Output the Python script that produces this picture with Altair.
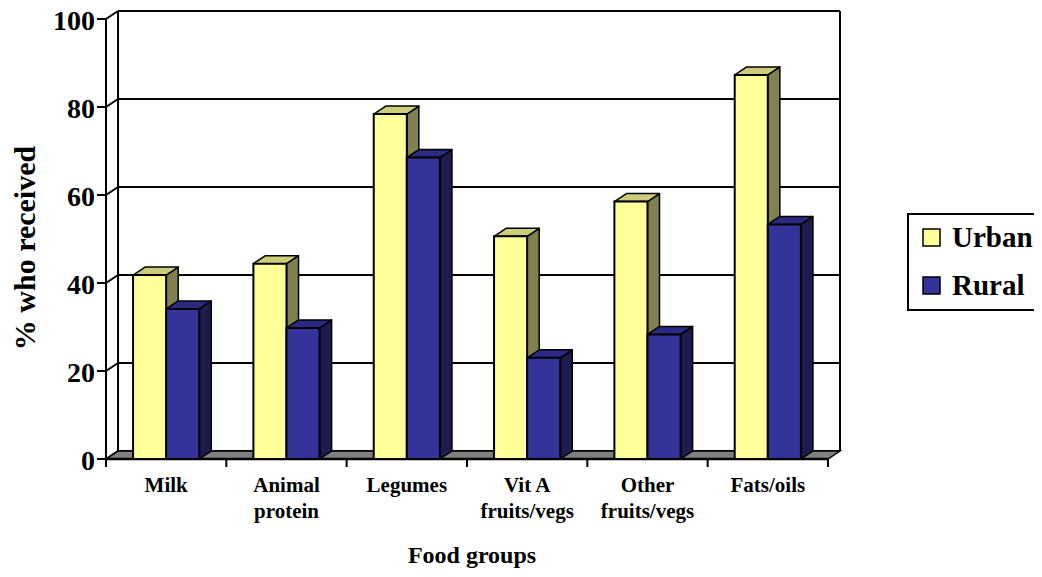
import altair as alt
import pandas as pd

categories = ["Milk", "Animal\nprotein", "Legumes", "Vit A\nfruits/vegs", "Other\nfruits/vegs", "Fats/oils"]
series_names = ["Urban", "Rural"]
urban = [41.8, 44.4, 78.4, 50.6, 58.5, 87.3]
rural = [34.1, 29.8, 68.5, 23.0, 28.3, 53.3]
y_ticks = [0, 20, 40, 60, 80, 100]
x_title = "Food groups"
y_title = "% who received"

# style / geometry
FONT = "Liberation Serif"
DEPTH_X = 0.1      # depth offset in category units
DEPTH_Y = 1.818    # depth offset in value units
Y_MAX = 100
N = len(categories)
BAR_W = 0.275
GAP = 0.225
TICK_X = 0.075     # y-axis tick length, category units
TICK_Y = 1.818     # x-axis tick length, value units
front_cols = {"Urban": "#FFFF99", "Rural": "#333399"}
top_cols = {"Urban": "#CCCC7A", "Rural": "#2A2A80"}
side_cols = {"Urban": "#808050", "Rural": "#1C1C4E"}

xs = alt.Scale(domain=[0, N + DEPTH_X], nice=False, zero=False)
ys = alt.Scale(domain=[0, Y_MAX + DEPTH_Y], nice=False, zero=False)


def X(f="x"):
    return alt.X(f"{f}:Q", scale=xs, axis=None)


def Y(f="y"):
    return alt.Y(f"{f}:Q", scale=ys, axis=None)


# ---------- walls, floor, axes ----------
grid_rows = []
for v in y_ticks:
    grid_rows.append({"x": DEPTH_X, "x2": N + DEPTH_X, "y": v + DEPTH_Y, "y2": v + DEPTH_Y})  # back wall
    grid_rows.append({"x": 0, "x2": DEPTH_X, "y": v, "y2": v + DEPTH_Y})  # side wall diagonals
    grid_rows.append({"x": -TICK_X, "x2": 0, "y": v, "y2": v})  # y ticks
grid_rows.append({"x": DEPTH_X, "x2": DEPTH_X, "y": DEPTH_Y, "y2": Y_MAX + DEPTH_Y})
grid_rows.append({"x": N + DEPTH_X, "x2": N + DEPTH_X, "y": DEPTH_Y, "y2": Y_MAX + DEPTH_Y})
grid_rows.append({"x": 0, "x2": 0, "y": 0, "y2": Y_MAX})
for i in range(N + 1):
    grid_rows.append({"x": i, "x2": i, "y": -TICK_Y, "y2": 0})  # x ticks
grid = alt.Chart(pd.DataFrame(grid_rows)).mark_rule(color="black", strokeWidth=2).encode(
    x=X(), x2="x2:Q", y=Y(), y2="y2:Q")

floor_df = pd.DataFrame([
    {"x": 0, "y": 0, "y2": 0},
    {"x": DEPTH_X, "y": DEPTH_Y, "y2": 0},
    {"x": N, "y": DEPTH_Y, "y2": 0},
    {"x": N + DEPTH_X, "y": DEPTH_Y, "y2": DEPTH_Y},
])
floor = alt.Chart(floor_df).mark_area(fill="#808080", stroke="black", strokeWidth=1.5,
                                      interpolate="linear").encode(x=X(), y=Y(), y2="y2:Q")

front_axis = alt.Chart(pd.DataFrame([{"x": 0, "x2": N, "y": 0}])).mark_rule(
    color="black", strokeWidth=2.5).encode(x=X(), x2="x2:Q", y=Y())

ylab_df = pd.DataFrame({"y": y_ticks, "t": [str(v) for v in y_ticks]})
ylabels = alt.Chart(ylab_df).mark_text(font=FONT, fontSize=28, fontWeight="bold", color="black",
                                       align="right", baseline="middle", dx=-11, dy=3).encode(
    x=alt.value(0), y=Y(), text="t:N")


# ---------- bars ----------
def bar_layers(name, vals, k):
    fronts, sides, tops = [], [], []
    for i, v in enumerate(vals):
        x0 = i + GAP + k * BAR_W
        x1 = x0 + BAR_W
        fronts.append({"x": x0, "x2": x1, "y": 0, "y2": v, "series": name})
        fid = f"{name}{i}"
        sides += [{"f": fid, "x": x1, "y": v, "y2": 0},
                  {"f": fid, "x": x1 + DEPTH_X, "y": v + DEPTH_Y, "y2": DEPTH_Y}]
        tops += [{"f": fid, "x": x0, "y": v, "y2": v},
                 {"f": fid, "x": x0 + DEPTH_X, "y": v + DEPTH_Y, "y2": v},
                 {"f": fid, "x": x1, "y": v + DEPTH_Y, "y2": v},
                 {"f": fid, "x": x1 + DEPTH_X, "y": v + DEPTH_Y, "y2": v + DEPTH_Y}]
    side = alt.Chart(pd.DataFrame(sides)).mark_area(
        fill=side_cols[name], stroke="black", strokeWidth=1.5, strokeJoin="round",
        interpolate="linear").encode(x=X(), y=Y(), y2="y2:Q", detail="f:N")
    top = alt.Chart(pd.DataFrame(tops)).mark_area(
        fill=top_cols[name], stroke="black", strokeWidth=1.5, strokeJoin="round",
        interpolate="linear").encode(x=X(), y=Y(), y2="y2:Q", detail="f:N")
    front = alt.Chart(pd.DataFrame(fronts)).mark_rect(stroke="black", strokeWidth=2).encode(
        x=X(), x2="x2:Q", y=Y(), y2="y2:Q",
        color=alt.Color("series:N",
                        scale=alt.Scale(domain=series_names,
                                        range=[front_cols[s] for s in series_names]),
                        legend=alt.Legend(title=None, orient="none", legendX=802, legendY=203,
                                          symbolType="square", symbolSize=289,
                                          symbolStrokeColor="black", symbolStrokeWidth=1.5,
                                          symbolOpacity=1, labelFont=FONT, labelFontSize=29,
                                          labelFontWeight="bold", labelColor="black",
                                          labelOffset=6, rowPadding=18, padding=9,
                                          strokeColor="black", fillColor="white")))
    return [side, top, front]


bars = bar_layers("Urban", urban, 0) + bar_layers("Rural", rural, 1)

# ---------- text ----------
cat_df = pd.DataFrame({"x": [i + 0.5 for i in range(N)], "label": categories})
cat_text = alt.Chart(cat_df).mark_text(font=FONT, fontSize=21, fontWeight="bold", color="black",
                                       lineBreak="\n", lineHeight=26, baseline="alphabetic",
                                       align="center").encode(
    x=X(), y=alt.value(481), text="label:N")

xt = alt.Chart(pd.DataFrame({"t": [x_title]})).mark_text(
    font=FONT, fontSize=24, fontWeight="bold", color="black", align="center",
    baseline="alphabetic").encode(x=alt.value(366), y=alt.value(552), text="t:N")
yt = alt.Chart(pd.DataFrame({"t": [y_title]})).mark_text(
    font=FONT, fontSize=30, fontWeight="bold", color="black", align="center",
    baseline="middle", angle=270).encode(x=alt.value(-80), y=alt.value(237), text="t:N")

chart = alt.layer(grid, floor, front_axis, ylabels, *bars, cat_text, xt, yt).properties(
    width=734, height=448,
    padding={"left": 98, "top": 3, "right": 194, "bottom": 110},
    autosize="none",
).configure_view(stroke=None).configure_legend(strokeWidth=2)

chart.save("out.html", embed_options={"renderer": "svg", "actions": False})
